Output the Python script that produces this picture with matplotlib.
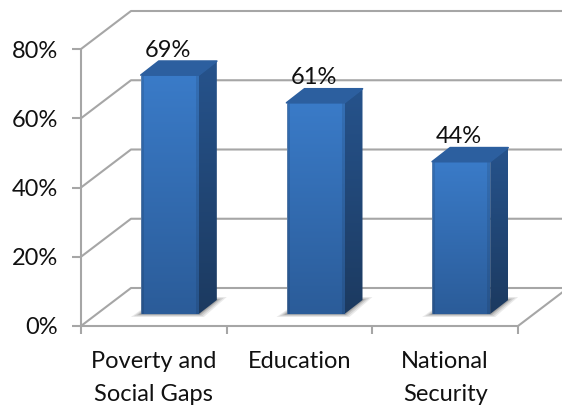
"""3D-look column chart drawn on a flat matplotlib axes."""

import matplotlib
matplotlib.use("Agg")
import matplotlib.pyplot as plt
import numpy as np
from matplotlib.colors import LinearSegmentedColormap
from matplotlib.patches import Polygon

categories = ["Poverty and\nSocial Gaps", "Education", "National\nSecurity"]
values = [69, 61, 44]
value_labels = ["69%", "61%", "44%"]
y_ticks = [0, 20, 40, 60, 80]
y_tick_labels = ["0%", "20%", "40%", "60%", "80%"]

# data units per pixel
PX_X = 3 / 437.0
PX_Y = 80 / 277.0

GRID = "#a6a6a6"
FONT_SIZE = 17
WALL_DX, WALL_DY = 50 * PX_X, 38 * PX_Y
BAR_W = 58 * PX_X
BAR_SHIFT_X, BAR_SHIFT_Y = 16 * PX_X, 12 * PX_Y
BAR_DX, BAR_DY = 18 * PX_X, 14 * PX_Y

plt.rcParams["font.family"] = ["Lato", "DejaVu Sans"]


def shaded(ax, verts, top, bottom, edge=None):
    # vertical gradient clipped to a polygon, optional darker side edges
    xs = [v[0] for v in verts]
    ys = [v[1] for v in verts]
    cmap = LinearSegmentedColormap.from_list("g", [bottom, top])
    grad = np.linspace(1, 0, 128)[:, None]
    if edge is None:
        rgba = cmap(np.repeat(grad, 2, axis=1))
    else:
        across = np.linspace(-1, 1, 58)
        rgba = cmap(np.repeat(grad, 58, axis=1)).copy()
        dark = 1 - edge * (np.abs(across) > 0.9)
        rgba[..., :3] *= dark[None, :, None]
    im = ax.imshow(rgba, extent=(min(xs), max(xs), min(ys), max(ys)),
                   aspect="auto", interpolation="bilinear", zorder=4)
    clip = Polygon(verts, closed=True, transform=ax.transData)
    im.set_clip_path(clip)


def draw_bar(ax, i, val):
    x0 = i + BAR_SHIFT_X + (1 - BAR_W - 2 * BAR_SHIFT_X) / 2 + BAR_SHIFT_X
    x1 = x0 + BAR_W
    y0 = BAR_SHIFT_Y
    y1 = y0 + val

    # soft floor shadow
    for grow, alpha in [(10, 0.12), (7, 0.16), (4, 0.2), (2, 0.25)]:
        gx, gy = grow * PX_X, grow * 0.3 * PX_Y
        ax.add_patch(Polygon(
            [(x0 - gx, y0 - gy), (x1 + gx * 0.5, y0 - gy),
             (x1 + BAR_DX + gx, y0 + BAR_DY + gy),
             (x0 + BAR_DX, y0 + BAR_DY + gy)],
            closed=True, facecolor="#555555", edgecolor="none", alpha=alpha,
            zorder=3))

    shaded(ax, [(x1, y0), (x1 + BAR_DX, y0 + BAR_DY),
                (x1 + BAR_DX, y1 + BAR_DY), (x1, y1)], "#26538c", "#1c3a60")
    shaded(ax, [(x0, y0), (x1, y0), (x1, y1), (x0, y1)],
           "#3a7bc8", "#2b5c99", edge=0.1)
    ax.add_patch(Polygon(
        [(x0, y1), (x1, y1), (x1 + BAR_DX, y1 + BAR_DY),
         (x0 + BAR_DX, y1 + BAR_DY)],
        closed=True, facecolor="#2c5f9f", edgecolor="#2c5f9f", linewidth=1.2,
        joinstyle="round", zorder=5))
    ax.plot([x0, x0, x1], [y1, y0, y0], color="#8c9bb0", linewidth=0.5,
            alpha=0.6, zorder=5)
    return (x0 + x1) / 2, y1


def main():
    fig = plt.figure(figsize=(5.62, 4.05), dpi=100)
    ax = fig.add_axes([0, 0, 1, 1])
    ax.axis("off")
    n = len(categories)

    line = dict(color=GRID, linewidth=1.5, solid_capstyle="butt", zorder=1)
    for t, lab in zip(y_ticks, y_tick_labels):
        # side wall diagonal and back wall horizontal
        ax.plot([0, WALL_DX, n + WALL_DX], [t, t + WALL_DY, t + WALL_DY], **line)
        # front tick and its label
        ax.plot([-9 * PX_X, 0], [t, t], **line)
        ax.text(-23 * PX_X, t - 2 * PX_Y, lab, ha="right", va="center",
                fontsize=FONT_SIZE, color="#111111")
    ax.plot([0, 0], [y_ticks[0] - 8 * PX_Y, y_ticks[-1]], **line)
    ax.plot([0, n, n + WALL_DX], [0, 0, WALL_DY], **line)
    for i in range(1, n + 1):
        ax.plot([i, i], [0, -8 * PX_Y], **line)

    for i, (val, txt) in enumerate(zip(values, value_labels)):
        cx, top = draw_bar(ax, i, val)
        ax.text(cx - 2 * PX_X, top + 25 * PX_Y, txt, ha="center", va="center",
                fontsize=FONT_SIZE, color="#111111", zorder=6)

    for i, cat in enumerate(categories):
        ax.text(i + 0.5, -25 * PX_Y, cat, ha="center", va="top",
                fontsize=FONT_SIZE, color="#111111", linespacing=1.7)

    ax.set_xlim(-81 * PX_X, (562 - 81) * PX_X)
    ax.set_ylim(-(405 - 326) * PX_Y, 326 * PX_Y)
    fig.savefig("out.png", dpi=100)
    plt.close(fig)


if __name__ == "__main__":
    main()
